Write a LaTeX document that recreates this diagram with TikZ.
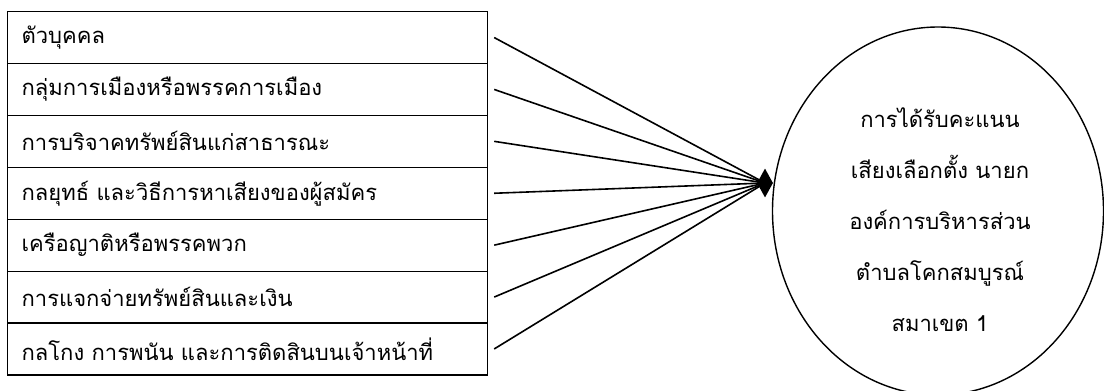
\documentclass[tikz,border=0pt]{standalone}
\usepackage{fontspec}
\newfontfamily\thaifont[Script=Thai]{Loma}
\usetikzlibrary{shapes.geometric}
\begin{document}
\begin{tikzpicture}[x=1bp,y=-1bp,
  thaitext/.style={font=\thaifont\fontsize{22bp}{51bp}\selectfont},
  rowbox/.style={draw, line width=1.2bp, thaitext, anchor=north west,
    minimum width=480bp, minimum height=51.9bp, text width=452bp,
    inner xsep=14bp, inner ysep=0pt, align=left},
  conn/.style={line width=1.6bp},
  result/.style={ellipse, draw, line width=1.4bp, minimum width=331bp,
    minimum height=368bp, inner sep=0pt},
  tipmark/.style={diamond, fill=black, inner sep=0pt, minimum width=16bp,
    minimum height=29bp}]
\fill[white] (0,0) rectangle (1104,390);
\useasboundingbox (0,0) rectangle (1104,390);
\node[rowbox] (r1) at (7,11.0) {\mbox{ตัวบุคคล}};
\node[rowbox] (r2) at (7,62.9) {\mbox{กลุ่มการเมืองหรือพรรคการเมือง}};
\node[rowbox] (r3) at (7,114.8) {\mbox{การบริจาคทรัพย์สินแก่สาธารณะ}};
\node[rowbox] (r4) at (7,166.7) {\mbox{กลยุทธ์ และวิธีการหาเสียงของผู้สมัคร}};
\node[rowbox] (r5) at (7,218.6) {\mbox{เครือญาติหรือพรรคพวก}};
\node[rowbox] (r6) at (7,270.5) {\mbox{การแจกจ่ายทรัพย์สินและเงิน}};
\node[rowbox] (r7) at (7,322.4) {\mbox{กลโกง การพนัน และการติดสินบนเจ้าหน้าที่}};
\node[result] (res) at (938,211) {};
\node[thaitext, align=center, inner sep=0pt] (restext) at (940,220)
  {การได้รับคะแนน\\เสียงเลือกตั้ง นายก\\องค์การบริหารส่วน\\ตำบลโคกสมบูรณ์\\สมาเขต 1};
\node[tipmark] (dia) at (765,183) {};
\foreach \r in {r1,r2,r3,r4,r5,r6,r7}{
  \draw[conn] ([xshift=6bp]\r.east) -- (dia.center);
}
\end{tikzpicture}
\end{document}
